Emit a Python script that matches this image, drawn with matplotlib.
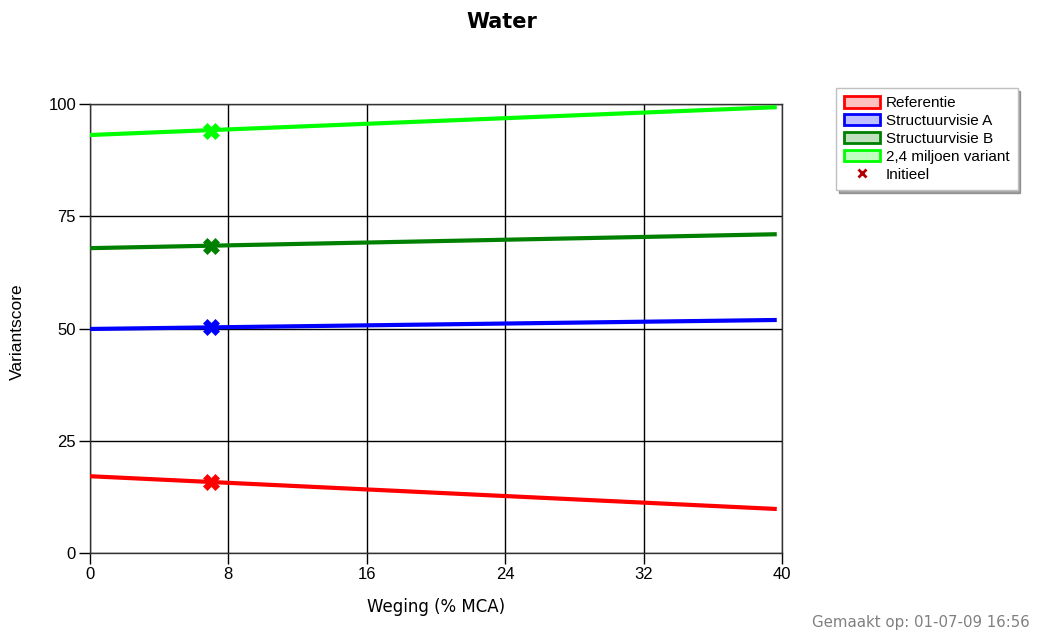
import numpy as np
import matplotlib.pyplot as plt
from matplotlib.patches import Patch
from matplotlib.lines import Line2D

# Data
series_names = ['Referentie', 'Structuurvisie A', 'Structuurvisie B', '2,4 miljoen variant']
line_colors = ['#ff0000', '#0000ff', '#008000', '#00ff00']
fill_colors = ['#ffc0c0', '#c0c0ff', '#c0e0c0', '#c0ffc0']
weging = [0, 39.7]
scores = [
    [17.1, 9.8],
    [49.9, 51.9],
    [67.9, 71.0],
    [93.1, 99.3],
]
initieel_x = 7.0
initieel_y = [15.8, 50.3, 68.4, 94.0]
x_ticks = [0, 8, 16, 24, 32, 40]
y_ticks = [0, 25, 50, 75, 100]

fig = plt.figure(figsize=(10.39, 6.32), dpi=100)
ax = fig.add_axes([0.0866, 0.125, 0.666, 0.7104])

for name, col, ys, iy in zip(series_names, line_colors, scores, initieel_y):
    ax.plot(weging, ys, color=col, lw=3, solid_capstyle='butt', zorder=3)
    ax.plot(initieel_x, iy, marker='X', ms=12, color=col,
            markeredgecolor=col, markeredgewidth=0.5, zorder=4)

ax.set_xlim(0, 40)
ax.set_ylim(0, 100)
ax.set_xticks(x_ticks)
ax.set_yticks(y_ticks)
ax.grid(True, color='black', lw=1)
ax.set_axisbelow(True)
ax.tick_params(direction='out', length=8, width=1, labelsize=12, pad=2)
for lab in ax.get_xticklabels() + ax.get_yticklabels():
    lab.set_family('Liberation Sans')
for sp in ax.spines.values():
    sp.set_color('#333333')
    sp.set_linewidth(1)

fig.text(436 / 1039, 1 - 607 / 632, 'Weging (% MCA)', ha='center', va='center',
         fontsize=12)
fig.text(17 / 1039, 1 - 332 / 632, 'Variantscore', ha='center', va='center',
         rotation=90, fontsize=12.5, family='Liberation Sans')

fig.text(502 / 1039, 1 - 22 / 632, 'Water', ha='center', va='center',
         fontsize=15, fontweight='bold')
fig.text(1030 / 1039, 1 - 622 / 632, 'Gemaakt op: 01-07-09 16:56', ha='right',
         va='center', fontsize=10.8, color='#808080')

handles = [Patch(facecolor=fc, edgecolor=lc, lw=2) for fc, lc in zip(fill_colors, line_colors)]
handles.append(Line2D([], [], ls='', marker='x', color='#b00000', ms=6, mew=2))
leg = fig.legend(handles, series_names + ['Initieel'], loc='upper left',
                 bbox_to_anchor=(836 / 1039, 1 - 88 / 632), frameon=True,
                 fancybox=False, shadow=True, prop={'family': 'Liberation Sans', 'size': 11},
                 handlelength=2.3, handleheight=0.75, labelspacing=0.25,
                 borderpad=0.55, handletextpad=0.4, borderaxespad=0)
leg.get_frame().set_edgecolor('#c0c0c0')

fig.savefig('out.png', dpi=100)
